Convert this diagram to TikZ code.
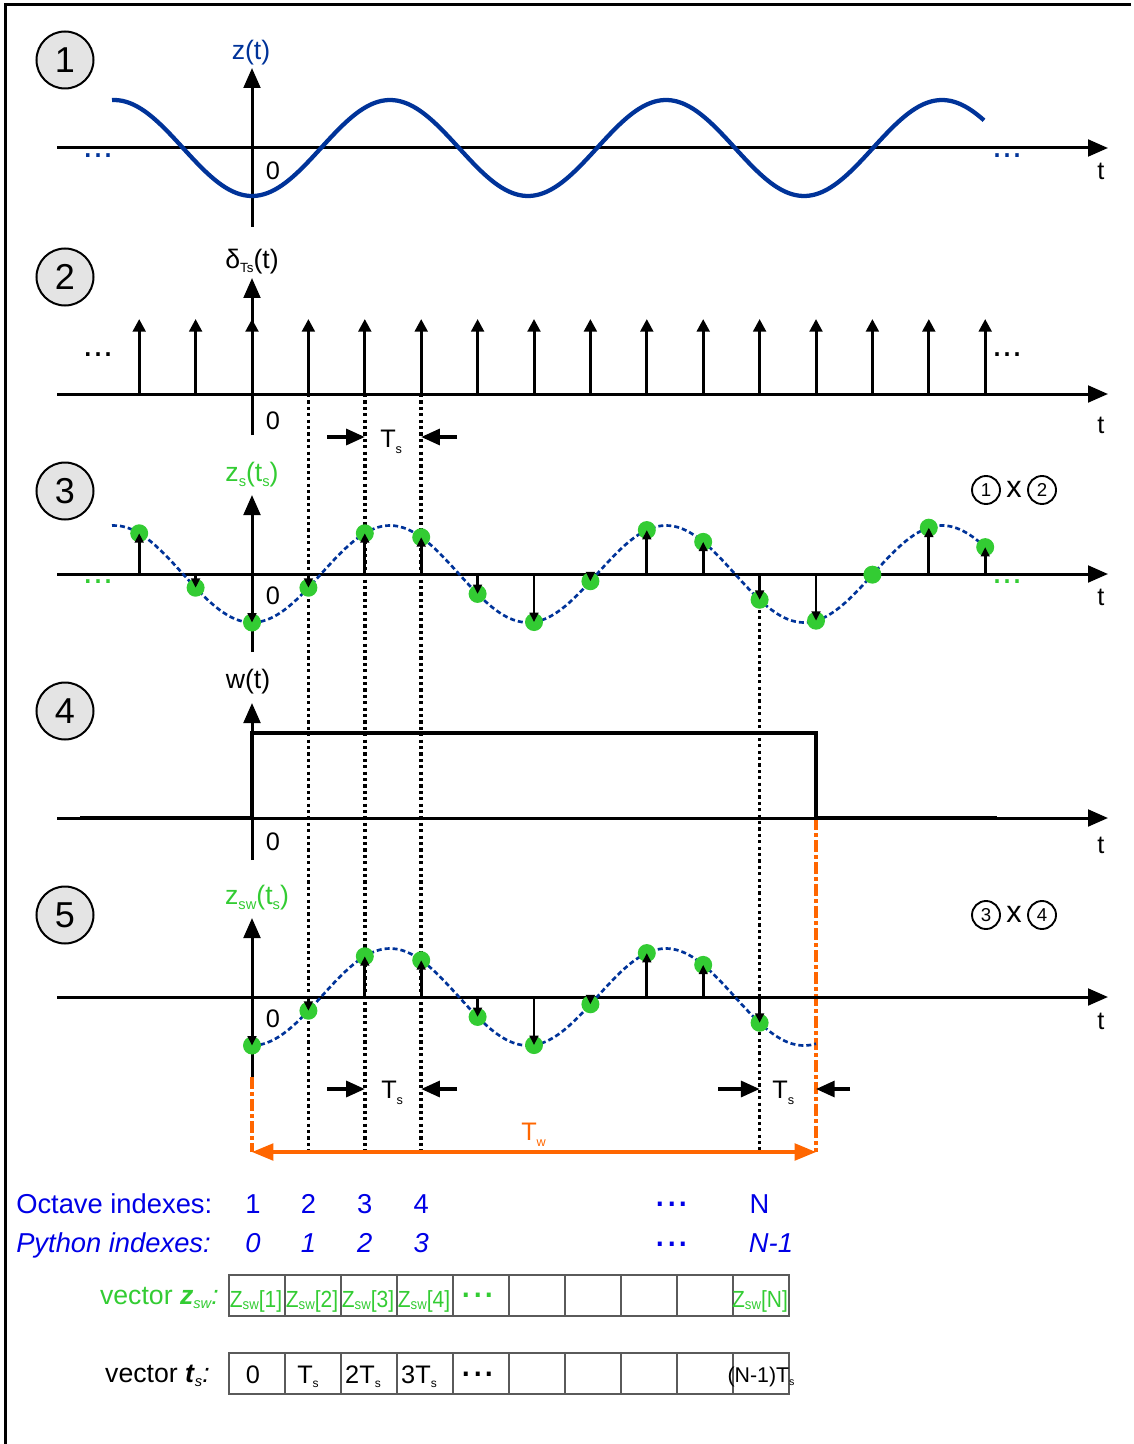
\documentclass[tikz,border=0pt]{standalone}
\usepackage{fontspec}
\setmainfont{Liberation Sans}
\usetikzlibrary{arrows.meta}
\definecolor{wblue}{RGB}{0,51,153}
\definecolor{sgreen}{RGB}{51,204,51}
\definecolor{oran}{RGB}{255,102,0}
\definecolor{tblue}{RGB}{0,0,230}
\definecolor{cgray}{RGB}{90,90,90}
\definecolor{cfill}{RGB}{228,228,228}
\newcommand\fs[1]{\fontsize{#1}{#1}\selectfont}
\newcommand\dsub[3]{\raisebox{#1}{\fs{#2}#3}}
\begin{document}
\begin{tikzpicture}[x=0.75pt,y=-0.75pt,
  axis/.style={line width=2.25pt,-{Triangle[length=15pt,width=12.5pt]}},
  imp/.style={line width=2.25pt,-{Triangle[length=9.5pt,width=9.5pt]}},
  samp/.style={line width=2.2pt,-{Triangle[length=7pt,width=6.5pt]}},
  tsarr/.style={line width=2.4pt,-{Triangle[length=14pt,width=12pt]}},
  dotv/.style={line width=2.6pt,dash pattern=on 2.4pt off 2.4pt},
  odash/.style={oran,line width=2.4pt,dash pattern=on 9pt off 2.5pt on 2.5pt off 2.5pt},
  wave/.style={wblue,line width=3.2pt},
  dwave/.style={wblue,line width=2pt,dash pattern=on 3.75pt off 2.25pt},
  sdot/.style={circle,fill=sgreen,inner sep=0pt,minimum size=13.5pt},
  bigc/.style={circle,draw,line width=1.5pt,fill=cfill,minimum size=42.75pt,inner sep=0pt,font=\fs{27pt}},
  smc/.style={circle,draw,line width=1.4pt,minimum size=21pt,inner sep=0pt,font=\fs{14pt}},
  lbl/.style={inner sep=0pt,font=\fs{20pt}},
  num/.style={inner sep=0pt,font=\fs{19pt}},
  dots/.style={inner sep=0pt,font=\fs{27pt}},
  bdots/.style={inner sep=0pt,font=\fs{31pt}},
  tsl/.style={anchor=base west,inner sep=0pt,font=\fs{19pt}},
  btxt/.style={inner sep=0pt,font=\fs{20.5pt},text=tblue},
  cell/.style={draw=cgray,line width=1.5pt,minimum width=42pt,minimum height=30.75pt,inner sep=0pt,anchor=north west},
]
\useasboundingbox (0,0) rectangle (1133,1444);
\draw[line width=2.25pt] (5,1444) -- (5,5) -- (1131,5);

% dotted guide lines
\foreach \xx in {308.4,364.8,421.2} \draw[dotv] (\xx,394) -- (\xx,1152);
\draw[dotv] (759.6,597) -- (759.6,1152);

% orange window lines
\draw[odash] (816,818) -- (816,1152);
\draw[odash] (252,1077) -- (252,1152);
\draw[oran,line width=2.4pt,{Triangle[length=16pt,width=12.5pt]}-{Triangle[length=16pt,width=12.5pt]}] (252,1152) -- (816,1152);
\node[tsl,text=oran] (tw) at (521,1140) {T\dsub{-4.5pt}{9.5pt}{w}};

% ---------- plot 1
\node[bigc] (c1) at (65,60) {1};
\draw[axis] (57,148) -- (1108,148);
\draw[axis] (252,227) -- (252,68);
\draw[wave] plot[domain=112:984,samples=160,smooth] (\x,{148+48*cos((\x-252)/276*360)});
\node[lbl,text=wblue] (zt) at (251,53) {z(t)};
\node[num] (o1) at (273,171) {0};
\node[num] (t1) at (1101,171) {t};
\node[dots,text=wblue] (d1l) at (98,156) {...};
\node[dots,text=wblue] (d1r) at (1007,156) {...};

% ---------- plot 2
\node[bigc] (c2) at (65,277) {2};
\draw[axis] (57,394) -- (1108,394);
\draw[axis] (252,435) -- (252,278);
\foreach \i in {-2,...,13} \draw[imp] ({252+56.4*\i},394) -- ({252+56.4*\i},319);
\node[lbl] (dlt) at (252,262) {δ\dsub{-3pt}{10pt}{Ts}(t)};
\node[num] (o2) at (273,421) {0};
\node[num] (t2) at (1101,425) {t};
\node[dots] (d2l) at (98,355) {...};
\node[dots] (d2r) at (1007,355) {...};
\draw[tsarr] (327,437) -- (364.8,437);
\draw[tsarr] (457,437) -- (421.2,437);
\node[tsl] (ts1) at (380,447) {T\dsub{-4.5pt}{9.5pt}{s}};

% ---------- plot 3
\node[bigc] (c3) at (65,491) {3};
\draw[axis] (57,574) -- (1108,574);
\draw[axis] (252,652) -- (252,495);
\draw[dwave] plot[domain=112:985,samples=160,smooth] (\x,{574+48.5*cos((\x-252)/276*360)});
\foreach \i in {0,...,15}{
  \pgfmathsetmacro\xx{252+56.4*(\i-2)}
  \pgfmathsetmacro\yy{574+48.5*cos((\xx-252)/276*360)}
  \node[sdot] (pa\i) at (\xx,\yy) {};
}
\foreach \i in {0,...,12,14,15}{
  \pgfmathsetmacro\xx{252+56.4*(\i-2)}
  \draw[samp] (\xx,574) -- (pa\i.center);
}
\node[lbl,text=sgreen] (zst) at (252,475) {z\dsub{-3.5pt}{11pt}{s}(t\dsub{-3.5pt}{11pt}{s})};
\node[num] (o3) at (273,596) {0};
\node[num] (t3) at (1101,597) {t};
\node[dots,text=sgreen] (d3l) at (98,582) {...};
\node[dots,text=sgreen] (d3r) at (1007,582) {...};
\node[smc] (m1) at (986,490) {1};
\node[inner sep=0pt,font=\fs{23pt}] (mx1) at (1014,489) {x};
\node[smc] (m2) at (1042,490) {2};

% ---------- plot 4
\node[bigc] (c4) at (65,711) {4};
\draw[axis] (57,818) -- (1108,818);
\draw[axis] (252,860) -- (252,703);
\draw[line width=3pt] (80,818) -- (252,818) -- (252,733) -- (816,733) -- (816,818) -- (997,818);
\node[lbl] (wt) at (248,682) {w(t)};
\node[num] (o4) at (273,842) {0};
\node[num] (t4) at (1101,845) {t};

% ---------- plot 5
\node[bigc] (c5) at (65,915) {5};
\draw[axis] (57,997) -- (1108,997);
\draw[axis] (252,1077) -- (252,918);
\draw[dwave] plot[domain=252:816,samples=110,smooth] (\x,{997+48.5*cos((\x-252)/276*360)});
\foreach \i in {0,...,9}{
  \pgfmathsetmacro\xx{252+56.4*\i}
  \pgfmathsetmacro\yy{997+48.5*cos((\xx-252)/276*360)}
  \node[sdot] (pb\i) at (\xx,\yy) {};
  \draw[samp] (\xx,997) -- (pb\i.center);
}
\node[lbl,text=sgreen] (zswt) at (257,898) {z\dsub{-3.5pt}{11pt}{sw}(t\dsub{-3.5pt}{11pt}{s})};
\node[num] (o5) at (273,1019) {0};
\node[num] (t5) at (1101,1021) {t};
\node[smc] (m3) at (986,915) {3};
\node[inner sep=0pt,font=\fs{23pt}] (mx2) at (1014,914) {x};
\node[smc] (m4) at (1042,915) {4};
\draw[tsarr] (327,1089) -- (364.8,1089);
\draw[tsarr] (457,1089) -- (421.2,1089);
\node[tsl] (ts2) at (381,1098) {T\dsub{-4.5pt}{9.5pt}{s}};
\draw[tsarr] (718,1089) -- (759.6,1089);
\draw[tsarr] (850,1089) -- (816,1089);
\node[tsl] (ts3) at (772,1098) {T\dsub{-4.5pt}{9.5pt}{s}};

% ---------- index rows
\node[btxt,anchor=base west] (oct) at (16,1213) {Octave indexes:};
\foreach \xx/\n [count=\c] in {253/1,308.4/2,364.8/3,421.2/4,759.6/N}
  \node[btxt,anchor=base] (on\c) at (\xx,1213) {\n};
\node[bdots,text=tblue] (odt) at (672,1204) {...};
\node[btxt,anchor=base west,font=\fs{20.5pt}\itshape] (pyt) at (16,1252) {Python indexes:};
\foreach \xx/\n [count=\c] in {253/0,308.4/1,364.8/2,421.2/3,771/N-1}
  \node[btxt,anchor=base,font=\fs{20.5pt}\itshape] (pn\c) at (\xx,1252) {\n};
\node[bdots,text=tblue] (pdt) at (672,1244) {...};

% ---------- vectors
\foreach \i in {0,...,9}{
  \node[cell] (zc\i) at ({228+56*\i},1274) {};
  \node[cell] (tc\i) at ({228+56*\i},1352) {};
}
\node[anchor=base east,inner sep=0pt,font=\fs{20pt},text=sgreen] (vz) at (219,1304)
  {vector \textbf{\textit{z}}\dsub{-3pt}{11pt}{\itshape sw}\textit{:}};
\node[anchor=base east,inner sep=0pt,font=\fs{20pt}] (vt) at (210,1382)
  {vector \textbf{\textit{t}}\dsub{-3pt}{11pt}{\itshape s}\textit{:}};
\foreach \i/\n in {0/1,1/2,2/3,3/4,9/N}
  \node[anchor=base,inner sep=0pt,font=\fs{17.5pt},text=sgreen] (zt\i) at ({256+56*\i},1307) {\scalebox{0.9}[1]{Z\dsub{-1.5pt}{11pt}{sw}[\n]}};
\node[bdots,text=sgreen] (zdt) at (478,1295) {...};
\node[anchor=base,inner sep=0pt,font=\fs{19pt}] (tt0) at (253,1383) {0};
\node[anchor=base,inner sep=0pt,font=\fs{19pt}] (tt1) at (308,1383) {T\dsub{-3pt}{9pt}{s}};
\node[anchor=base,inner sep=0pt,font=\fs{19pt}] (tt2) at (363,1383) {2T\dsub{-3pt}{9pt}{s}};
\node[anchor=base,inner sep=0pt,font=\fs{19pt}] (tt3) at (419,1383) {3T\dsub{-3pt}{9pt}{s}};
\node[bdots] (tdt) at (478,1374) {...};
\node[anchor=base,inner sep=0pt,font=\fs{16pt}] (tt9) at (761,1382) {(N-1)T\dsub{-2.5pt}{8pt}{s}};
\end{tikzpicture}
\end{document}
